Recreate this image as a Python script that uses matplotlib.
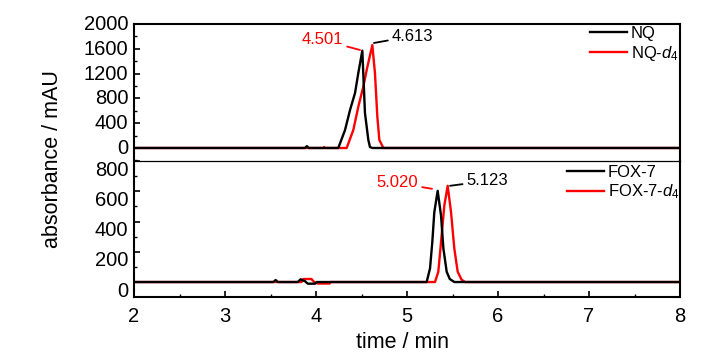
import matplotlib
matplotlib.use("Agg")
import matplotlib.pyplot as plt
import matplotlib.transforms as mtransforms
from matplotlib.ticker import MultipleLocator

plt.rcParams['font.family'] = ['Liberation Sans', 'DejaVu Sans']
plt.rcParams['mathtext.fontset'] = 'custom'
plt.rcParams['mathtext.rm'] = 'Liberation Sans'
plt.rcParams['mathtext.it'] = 'Liberation Sans:italic'

# ---- data (time in min, absorbance in mAU) ----
nq_t = [2.0, 3.88, 3.90, 3.92, 4.245, 4.319, 4.374, 4.429, 4.465, 4.509, 4.538, 4.575, 4.593, 4.62, 8.0]
nq_v = [0, 0, 30, 0, 0, 290, 613, 887, 1210, 1570, 565, 130, 15, 0, 0]

nqd4_t = [2.0, 4.08, 4.09, 4.10, 4.337, 4.41, 4.465, 4.52, 4.557, 4.619, 4.648, 4.674, 4.696, 4.74, 8.0]
nqd4_v = [0, 0, 15, 0, 0, 290, 666, 990, 1258, 1660, 1205, 505, 130, 0, 0]

fox_t = [2.0, 3.53, 3.557, 3.58, 3.80, 3.83, 3.88, 3.91, 3.99, 4.01, 5.216, 5.253, 5.278, 5.30, 5.337, 5.374, 5.40, 5.436, 5.47, 5.52, 8.0]
fox_v = [0, 0, 13, 0, 0, 18, 5, -11, -11, 0, 0, 90, 264, 461, 603, 439, 221, 68, 20, 0, 0]

foxd4_t = [2.0, 3.84, 3.86, 3.95, 3.98, 4.02, 4.15, 4.16, 5.308, 5.344, 5.374, 5.41, 5.447, 5.484, 5.52, 5.557, 5.60, 5.64, 8.0]
foxd4_v = [0, 0, 20, 20, 0, -10, -10, 0, 0, 68, 264, 505, 636, 461, 221, 68, 15, 0, 0]

top_labels = ["4.501", "4.613"]
bottom_labels = ["5.020", "5.123"]
top_legend = ["NQ", "NQ-$\\mathit{d}_4$"]
bottom_legend = ["FOX-7", "FOX-7-$\\mathit{d}_4$"]

fig = plt.figure(figsize=(7.28, 3.55), dpi=100)
L, W = 134/728, 546/728
ax1 = fig.add_axes([L, 1-161/355, W, 137/355])
ax2 = fig.add_axes([L, 1-297/355, W, 136/355])

lw = 1.7
for ax in (ax1, ax2):
    for s in ax.spines.values():
        s.set_linewidth(1.5)
    ax.set_xlim(2, 8)
    ax.tick_params(axis='both', which='both', direction='in', labelsize=14.5,
                   top=False, right=False)
    ax.tick_params(which='major', length=4.5, width=1.2)
    ax.tick_params(which='minor', length=2.5, width=1.0)
    ax.tick_params(axis='y', pad=4)

# top panel
ax1.plot(nqd4_t, nqd4_v, color='#ff0000', lw=lw, zorder=2, label=top_legend[1])
ax1.plot(nq_t, nq_v, color='black', lw=lw, zorder=3, label=top_legend[0])
ax1.set_ylim(-210, 2000)
ax1.yaxis.set_major_locator(MultipleLocator(400))
ax1.yaxis.set_minor_locator(MultipleLocator(200))
ax1.spines['bottom'].set_visible(False)
ax1.tick_params(axis='x', which='both', bottom=False, labelbottom=False)

# bottom panel
ax2.plot(foxd4_t, foxd4_v, color='#ff0000', lw=lw, zorder=2, label=bottom_legend[1])
ax2.plot(fox_t, fox_v, color='black', lw=lw, zorder=3, label=bottom_legend[0])
ax2.set_ylim(-99, 800)
ax2.yaxis.set_major_locator(MultipleLocator(200))
ax2.yaxis.set_minor_locator(MultipleLocator(100))
ax2.xaxis.set_major_locator(MultipleLocator(1))
ax2.xaxis.set_minor_locator(MultipleLocator(0.5))
ax2.spines['top'].set_linewidth(0.9)
ax2.tick_params(axis='x', pad=7)

# shift bottom-panel y tick labels slightly downward, as in the reference
off = mtransforms.ScaledTranslation(0, -7/100, fig.dpi_scale_trans)
for lab in ax2.get_yticklabels():
    lab.set_transform(lab.get_transform() + off)
off1 = mtransforms.ScaledTranslation(0, 1.5/100, fig.dpi_scale_trans)
for lab in ax1.get_yticklabels():
    lab.set_transform(lab.get_transform() + off1)

# annotations
arr = lambda c: dict(arrowstyle='-', color=c, lw=1.3, shrinkA=1, shrinkB=0)
ax1.annotate(top_labels[0], xy=(4.484, 1581), xytext=(4.297, 1742), color='#ff0000',
             fontsize=12, ha='right', va='center', arrowprops=arr('#ff0000'))
ax1.annotate(top_labels[1], xy=(4.637, 1694), xytext=(4.835, 1806), color='black',
             fontsize=12, ha='left', va='center', arrowprops=arr('black'))
ax2.annotate(bottom_labels[0], xy=(5.275, 616), xytext=(5.121, 656), color='#ff0000',
             fontsize=12, ha='right', va='center', arrowprops=arr('#ff0000'))
ax2.annotate(bottom_labels[1], xy=(5.473, 636), xytext=(5.656, 669), color='black',
             fontsize=12, ha='left', va='center', arrowprops=arr('black'))

# legends
h1, l1 = ax1.get_legend_handles_labels()
ax1.legend(h1[::-1], l1[::-1], loc='upper left', bbox_to_anchor=(0.835, 0.985), frameon=False,
           fontsize=12, handlelength=2.2, handletextpad=0.25, borderpad=0, borderaxespad=0,
           labelspacing=0.15)
h2, l2 = ax2.get_legend_handles_labels()
ax2.legend(h2[::-1], l2[::-1], loc='upper left', bbox_to_anchor=(0.793, 0.97), frameon=False,
           fontsize=12, handlelength=2.2, handletextpad=0.25, borderpad=0, borderaxespad=0,
           labelspacing=0.15)

fig.text(53/728, 1-159/355, 'absorbance / mAU', rotation=90, ha='center', va='center', fontsize=15.5)
fig.text(402/728, 1-342/355, 'time / min', ha='center', va='center', fontsize=15.5)

fig.savefig('out.png', dpi=100)
